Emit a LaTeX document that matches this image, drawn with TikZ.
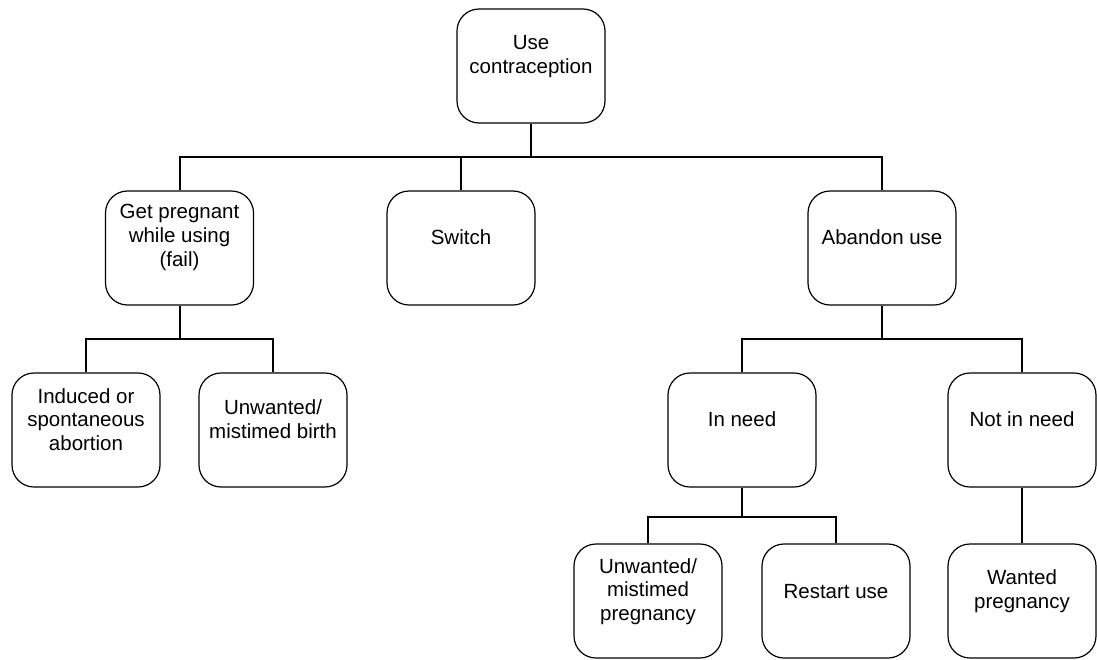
\documentclass[tikz,border=0pt]{standalone}
\usepackage{fontspec}
\setmainfont{Liberation Sans}
\begin{document}
\begin{tikzpicture}[x=1pt,y=-1pt,
  box/.style={draw=black,line width=1.2pt,rounded corners=22pt,minimum width=148pt,minimum height=114pt,inner sep=0pt},
  lbl/.style={align=center,inner sep=0pt,font=\fontsize{20.5}{23.6}\selectfont},
  conn/.style={draw=black,line width=2pt}]
\useasboundingbox (0,0) rectangle (1097,659);
% boxes
\node[box] (top) at (531,66) {};
\node[box] (gp) at (179.5,248) {};
\node[box] (sw) at (461,248) {};
\node[box] (ab) at (882,248) {};
\node[box] (ind) at (86,430) {};
\node[box] (ub) at (273,430) {};
\node[box] (in) at (742,430) {};
\node[box] (nin) at (1022,430) {};
\node[box] (up) at (648,601) {};
\node[box] (rs) at (836,601) {};
\node[box] (wp) at (1022,601) {};
% labels
\node[lbl] (ttop) at ([yshift=-48pt]top.north) {Use\\contraception};
\node[lbl] (tgp) at ([yshift=-47pt]gp.north) {Get pregnant\\while using\\(fail)};
\node[lbl] (tsw) at ([yshift=-47pt]sw.north) {Switch};
\node[lbl] (tab) at ([yshift=-47pt]ab.north) {Abandon use};
\node[lbl] (tind) at ([yshift=-47pt]ind.north) {Induced or\\spontaneous\\abortion};
\node[lbl] (tub) at ([yshift=-47pt]ub.north) {Unwanted/\\mistimed birth};
\node[lbl] (tin) at ([yshift=-47pt]in.north) {In need};
\node[lbl] (tnin) at ([yshift=-47pt]nin.north) {Not in need};
\node[lbl] (tup) at ([yshift=-48pt]up.north) {Unwanted/\\mistimed\\pregnancy};
\node[lbl] (trs) at ([yshift=-48pt]rs.north) {Restart use};
\node[lbl] (twp) at ([yshift=-48pt]wp.north) {Wanted\\pregnancy};
% bus coordinates
\coordinate (b1) at (531,157);
\coordinate (b2) at (179.5,339);
\coordinate (b3) at (882,339);
\coordinate (b4) at (742,517);
% connectors
\draw[conn] (top.south) -- (b1);
\draw[conn] (gp.north) -- (gp.north |- b1) -- (ab.north |- b1) -- (ab.north);
\draw[conn] (sw.north) -- (sw.north |- b1);
\draw[conn] (gp.south) -- (b2);
\draw[conn] (ind.north) -- (ind.north |- b2) -- (ub.north |- b2) -- (ub.north);
\draw[conn] (ab.south) -- (b3);
\draw[conn] (in.north) -- (in.north |- b3) -- (nin.north |- b3) -- (nin.north);
\draw[conn] (in.south) -- (b4);
\draw[conn] (up.north) -- (up.north |- b4) -- (rs.north |- b4) -- (rs.north);
\draw[conn] (nin.south) -- (wp.north);
\end{tikzpicture}
\end{document}
